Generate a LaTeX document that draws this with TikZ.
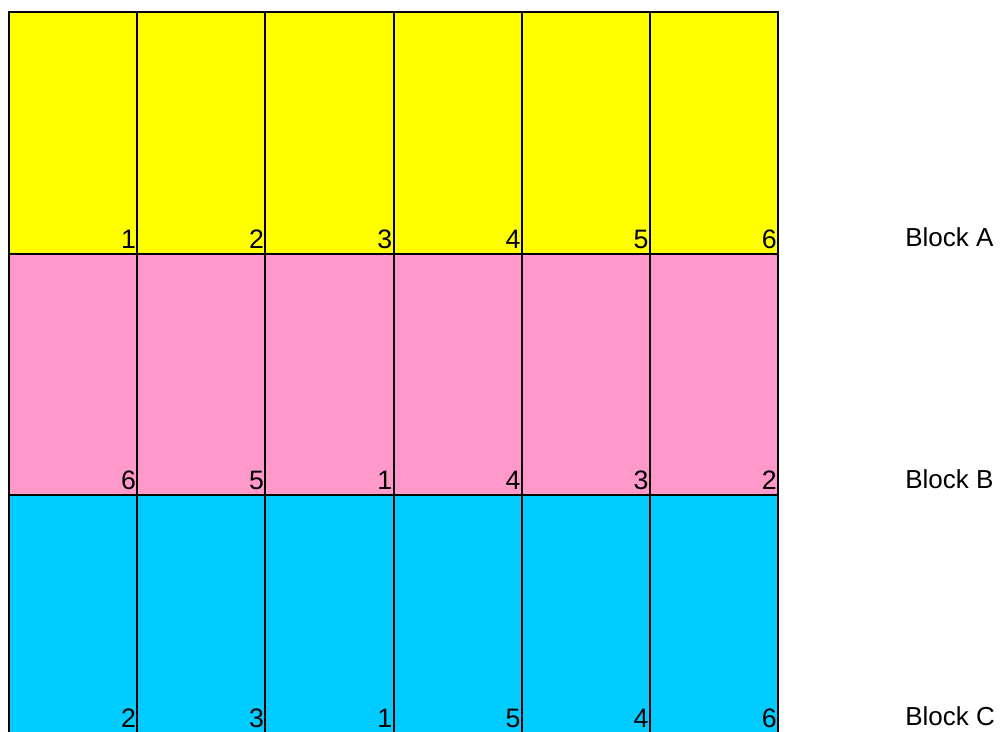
\documentclass[tikz,border=0pt]{standalone}
\usepackage{fontspec}
\setmainfont{Liberation Sans}
\definecolor{cyel}{HTML}{FFFF00}
\definecolor{cpink}{HTML}{FF99CC}
\definecolor{ccyan}{HTML}{00CCFF}
\begin{document}
\begin{tikzpicture}[x=0.75pt,y=-0.75pt,
  cell/.style={rectangle,inner sep=0pt,outer sep=0pt,
    minimum width=96.125pt,minimum height=181.125pt,anchor=north west},
  border/.style={draw=black,line width=1.5pt},
  num/.style={font=\fontsize{20pt}{22pt}\selectfont,inner sep=0pt,anchor=base east},
  blocklbl/.style={font=\fontsize{19.5pt}{22pt}\selectfont,inner sep=0pt,anchor=base west}]
\clip (0,0) rectangle (1002,731);
\useasboundingbox (0,0) rectangle (1002,731);
\def\cw{128.1667}
\def\rh{241.5}
% cells (fill)
\foreach \r/\col in {0/cyel, 1/cpink, 2/ccyan}{
  \foreach \c in {0,...,5}{
    \node[cell,fill=\col] (cell-\r-\c) at ({9+\c*\cw},{12+\r*\rh}) {};
  }
}
% cell borders
\foreach \r in {0,1,2}{
  \foreach \c in {0,...,5}{
    \draw[border] (cell-\r-\c.north west) rectangle (cell-\r-\c.south east);
  }
}
% numbers and block labels
\foreach \r/\nums/\lbl/\up in {0/{1,2,3,4,5,6}/A/0, 1/{6,5,1,4,3,2}/B/0, 2/{2,3,1,5,4,6}/C/4}{
  \foreach \n [count=\c from 0] in \nums {
    \node[num] (num-\r-\c) at ([xshift=-0.8pt,yshift={4.1pt+\up*0.75pt}]cell-\r-\c.south east) {\n};
  }
  \node[blocklbl] (block-\lbl) at (905,{12+(\r+1)*\rh-7-\up}) {Block \lbl};
}
\end{tikzpicture}
\end{document}
